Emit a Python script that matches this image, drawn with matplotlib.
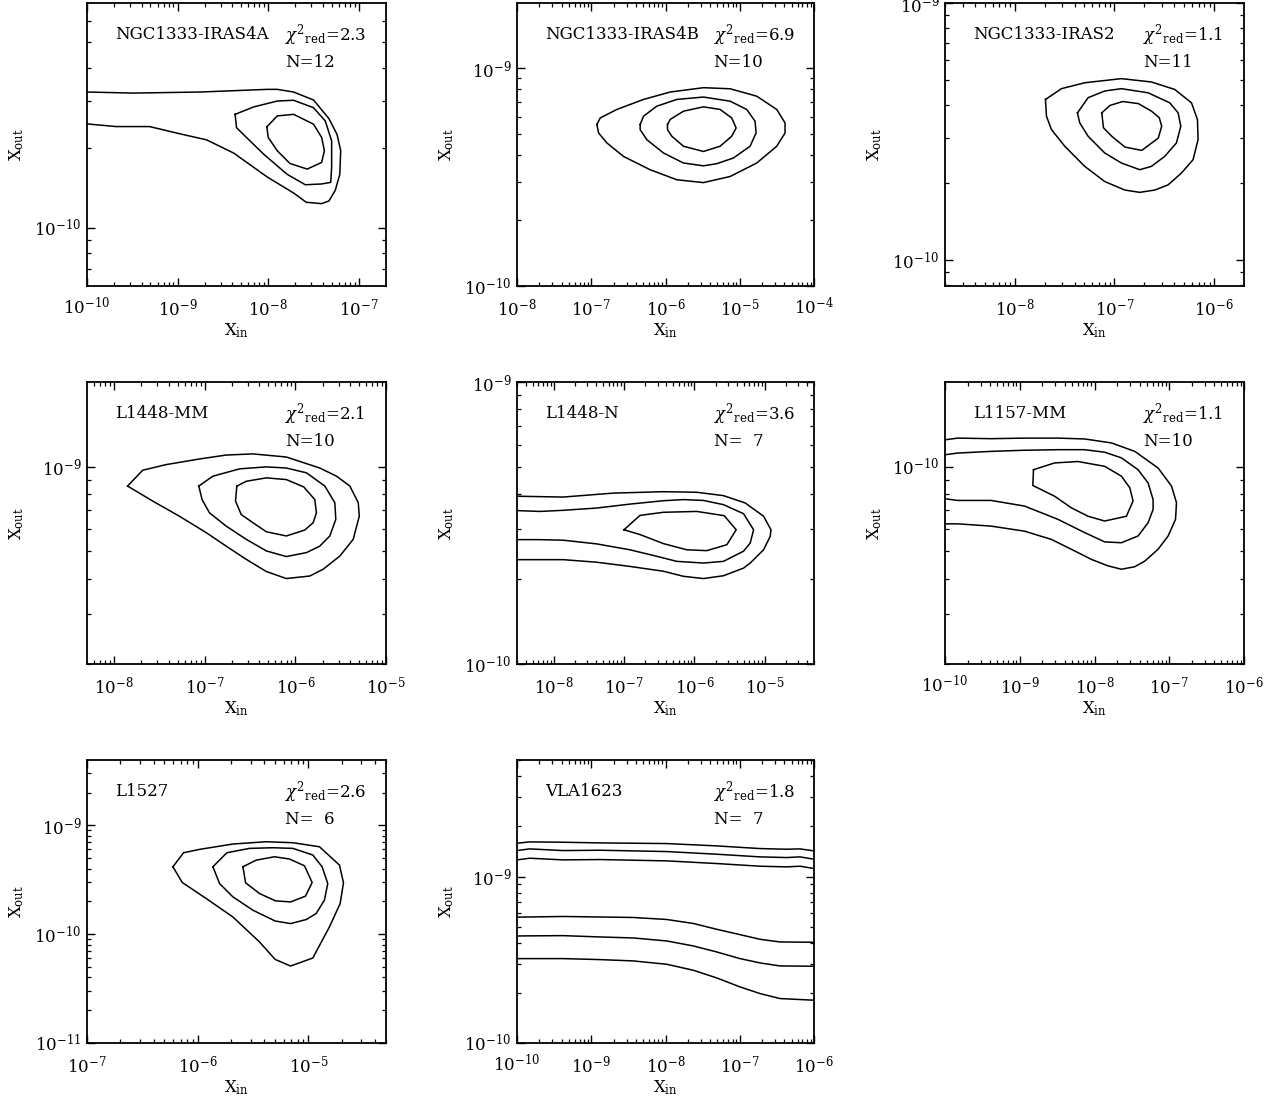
import numpy as np
import matplotlib
matplotlib.use("Agg")
import matplotlib.pyplot as plt
from matplotlib.ticker import LogLocator, NullFormatter, LogFormatterSciNotation

plt.rcParams['font.family'] = ['DejaVu Serif']
plt.rcParams['mathtext.fontset'] = 'dejavuserif'

# source names, fit quality and number of lines
names = ["NGC1333-IRAS4A", "NGC1333-IRAS4B", "NGC1333-IRAS2",
         "L1448-MM", "L1448-N", "L1157-MM", "L1527", "VLA1623"]
chi2_red = ["2.3", "6.9", "1.1", "2.1", "3.6", "1.1", "2.6", "1.8"]
n_lines = ["12", "10", "11", "10", " 7", "10", " 6", " 7"]

# axis ranges (log10 of abundance)
xin_range = [(-10, -6.7), (-8, -4), (-8.7, -5.7), (-8.3, -5), (-8.523, -4.3),
             (-10, -6), (-7, -4.3), (-10, -6)]
xout_range = [(-10.22, -9.155), (-10, -8.7), (-10.1, -9), (-9.7, -8.7), (-10, -9),
              (-10.7, -9.7), (-11, -8.4), (-10, -8.3)]

# chi2 contours, log10(X_in), log10(X_out)
iras4a = [
    ([-10, -9.49, -8.75, -8.01, -7.90, -7.72, -7.50, -7.33, -7.24, -7.20, -7.21, -7.26,
      -7.33, -7.41, -7.58, -7.72, -8.01, -8.38, -8.68, -8.94, -9.31, -9.68, -10],
     [-9.49, -9.494, -9.49, -9.48, -9.48, -9.49, -9.52, -9.59, -9.65, -9.71, -9.80, -9.86,
      -9.90, -9.91, -9.905, -9.87, -9.81, -9.72, -9.67, -9.65, -9.62, -9.62, -9.61]),
    ([-8.365, -8.16, -7.90, -7.72, -7.50, -7.37, -7.30, -7.30, -7.31, -7.41, -7.59, -7.79,
      -8.05, -8.24, -8.35, -8.365],
     [-9.574, -9.546, -9.524, -9.521, -9.549, -9.599, -9.674, -9.774, -9.83, -9.836, -9.839,
      -9.80, -9.724, -9.661, -9.624, -9.574]),
    ([-8.015, -7.90, -7.72, -7.50, -7.41, -7.38, -7.41, -7.57, -7.76, -7.90, -8.0, -8.015],
     [-9.621, -9.58, -9.574, -9.611, -9.661, -9.711, -9.755, -9.78, -9.759, -9.711, -9.661, -9.621]),
]

iras4b = [
    ([-6.924, -6.879, -6.655, -6.296, -5.937, -5.489, -5.13, -4.771, -4.502, -4.39, -4.39,
      -4.502, -4.771, -5.13, -5.489, -5.848, -6.206, -6.565, -6.789, -6.901, -6.924],
     [-9.258, -9.228, -9.189, -9.143, -9.109, -9.089, -9.094, -9.128, -9.189, -9.251, -9.297,
      -9.358, -9.435, -9.497, -9.525, -9.512, -9.466, -9.405, -9.343, -9.297, -9.258]),
    ([-6.341, -6.296, -6.117, -5.848, -5.489, -5.13, -4.906, -4.794, -4.78, -4.861, -5.085,
      -5.309, -5.489, -5.758, -6.027, -6.251, -6.341, -6.341],
     [-9.258, -9.22, -9.174, -9.143, -9.132, -9.151, -9.189, -9.243, -9.297, -9.358, -9.412,
      -9.438, -9.448, -9.435, -9.389, -9.328, -9.282, -9.258]),
    ([-5.973, -5.937, -5.758, -5.489, -5.265, -5.108, -5.049, -5.108, -5.265, -5.489, -5.758,
      -5.915, -5.973, -5.973],
     [-9.258, -9.235, -9.197, -9.177, -9.189, -9.228, -9.274, -9.312, -9.358, -9.382, -9.358,
      -9.312, -9.282, -9.258]),
]

iras2 = [
    ([-7.692, -7.532, -7.298, -6.930, -6.629, -6.395, -6.227, -6.167, -6.161, -6.211, -6.328,
      -6.462, -6.595, -6.746, -6.896, -7.097, -7.298, -7.498, -7.632, -7.682, -7.692],
     [-9.375, -9.333, -9.31, -9.294, -9.307, -9.336, -9.388, -9.453, -9.531, -9.609, -9.661,
      -9.707, -9.727, -9.736, -9.727, -9.694, -9.635, -9.557, -9.492, -9.44, -9.375]),
    ([-7.371, -7.264, -7.097, -6.930, -6.662, -6.445, -6.361, -6.334, -6.378, -6.495, -6.629,
      -6.746, -6.930, -7.097, -7.264, -7.348, -7.371],
     [-9.427, -9.368, -9.342, -9.333, -9.349, -9.388, -9.427, -9.479, -9.544, -9.596, -9.635,
      -9.648, -9.622, -9.583, -9.518, -9.466, -9.427]),
    ([-7.127, -7.044, -6.917, -6.760, -6.626, -6.550, -6.526, -6.560, -6.726, -6.894, -7.027,
      -7.110, -7.127],
     [-9.427, -9.398, -9.383, -9.391, -9.421, -9.446, -9.479, -9.525, -9.573, -9.560, -9.518,
      -9.485, -9.427]),
]

l1448mm = [
    ([-7.852, -7.686, -7.428, -7.059, -6.764, -6.469, -6.100, -5.731, -5.546, -5.399, -5.306,
      -5.295, -5.362, -5.509, -5.694, -5.841, -6.100, -6.321, -6.542, -6.764, -6.985, -7.280,
      -7.576, -7.852],
     [-9.069, -9.013, -8.993, -8.973, -8.959, -8.955, -8.966, -9.005, -9.034, -9.069, -9.128,
      -9.176, -9.258, -9.317, -9.364, -9.388, -9.397, -9.372, -9.329, -9.282, -9.234, -9.176,
      -9.122, -9.069]),
    ([-7.066, -6.911, -6.616, -6.321, -6.100, -5.878, -5.675, -5.565, -5.554, -5.620, -5.731,
      -5.878, -6.100, -6.321, -6.542, -6.764, -6.948, -7.030, -7.066],
     [-9.069, -9.034, -9.008, -9.001, -9.005, -9.022, -9.069, -9.128, -9.187, -9.246, -9.282,
      -9.305, -9.319, -9.299, -9.258, -9.211, -9.164, -9.117, -9.069]),
    ([-6.646, -6.542, -6.321, -6.100, -5.908, -5.786, -5.768, -5.804, -5.897, -6.100, -6.321,
      -6.469, -6.598, -6.661, -6.646],
     [-9.069, -9.052, -9.040, -9.046, -9.072, -9.117, -9.164, -9.199, -9.225, -9.246, -9.231,
      -9.199, -9.170, -9.122, -9.069]),
]

l1448n = [
    ([-8.523, -7.867, -7.154, -6.442, -5.967, -5.587, -5.278, -5.017, -4.912, -4.922, -5.017,
      -5.207, -5.302, -5.587, -5.872, -6.157, -6.442, -6.917, -7.392, -7.867, -8.523],
     [-9.405, -9.408, -9.394, -9.389, -9.391, -9.403, -9.429, -9.476, -9.524, -9.547, -9.595,
      -9.642, -9.660, -9.687, -9.697, -9.689, -9.671, -9.654, -9.639, -9.630, -9.630]),
    ([-8.523, -8.200, -7.867, -7.392, -6.917, -6.442, -6.157, -5.872, -5.587, -5.302, -5.159,
      -5.207, -5.302, -5.587, -5.872, -6.252, -6.537, -6.917, -7.392, -7.867, -8.200, -8.523],
     [-9.456, -9.459, -9.455, -9.447, -9.433, -9.421, -9.417, -9.420, -9.435, -9.467, -9.524,
      -9.571, -9.600, -9.636, -9.642, -9.636, -9.618, -9.595, -9.574, -9.561, -9.559, -9.559]),
    ([-7.002, -6.774, -6.442, -5.967, -5.577, -5.406, -5.539, -5.824, -6.109, -6.442, -6.774, -7.002],
     [-9.524, -9.473, -9.462, -9.459, -9.474, -9.524, -9.577, -9.598, -9.595, -9.573, -9.541, -9.524]),
]

l1157mm = [
    ([-10, -9.830, -9.383, -8.936, -8.489, -8.132, -7.774, -7.461, -7.149, -6.970, -6.903,
      -6.916, -7.015, -7.149, -7.327, -7.461, -7.640, -7.819, -8.042, -8.311, -8.579, -8.936,
      -9.383, -9.830, -10],
     [-9.905, -9.899, -9.901, -9.899, -9.899, -9.902, -9.916, -9.946, -10.005, -10.069, -10.128,
      -10.187, -10.246, -10.293, -10.335, -10.355, -10.364, -10.352, -10.329, -10.293, -10.258,
      -10.229, -10.211, -10.203, -10.203]),
    ([-10, -9.830, -9.383, -8.936, -8.489, -8.132, -7.864, -7.640, -7.417, -7.283, -7.216,
      -7.216, -7.283, -7.417, -7.640, -7.864, -8.132, -8.489, -8.936, -9.383, -9.830, -10],
     [-9.958, -9.952, -9.946, -9.942, -9.940, -9.940, -9.949, -9.969, -10.011, -10.058, -10.117,
      -10.152, -10.199, -10.246, -10.270, -10.267, -10.234, -10.187, -10.140, -10.120, -10.120,
      -10.114]),
    ([-8.816, -8.534, -8.221, -7.864, -7.640, -7.528, -7.484, -7.573, -7.864, -8.087, -8.311,
      -8.534, -8.825, -8.816],
     [-10.011, -9.987, -9.982, -9.999, -10.034, -10.075, -10.122, -10.176, -10.193, -10.176,
      -10.146, -10.105, -10.067, -10.011]),
]

l1527 = [
    ([-6.224, -6.128, -5.983, -5.683, -5.382, -5.141, -4.901, -4.720, -4.684, -4.714, -4.811,
      -4.961, -5.162, -5.301, -5.442, -5.683, -5.923, -6.140, -6.224],
     [-9.381, -9.252, -9.221, -9.172, -9.151, -9.160, -9.197, -9.366, -9.528, -9.719, -9.934,
      -10.219, -10.293, -10.232, -10.072, -9.842, -9.673, -9.525, -9.381]),
    ([-5.863, -5.737, -5.532, -5.322, -5.141, -4.961, -4.877, -4.826, -4.856, -4.931, -5.021,
      -5.162, -5.301, -5.502, -5.683, -5.803, -5.863],
     [-9.381, -9.252, -9.212, -9.206, -9.212, -9.273, -9.381, -9.535, -9.688, -9.811, -9.866,
      -9.903, -9.879, -9.780, -9.657, -9.535, -9.381]),
    ([-5.592, -5.472, -5.307, -5.171, -5.036, -4.967, -5.027, -5.162, -5.298, -5.442, -5.568, -5.592],
     [-9.381, -9.320, -9.289, -9.310, -9.372, -9.525, -9.651, -9.704, -9.694, -9.627, -9.528, -9.381]),
]

vla_x_top = [-10, -9.829, -9.380, -8.882, -7.984, -7.310, -6.727, -6.368, -6.189, -6.0]
vla_x_bot = [-10, -9.380, -8.882, -8.433, -7.984, -7.625, -7.310, -6.997, -6.727, -6.458, -6.0]
vla1623 = [
    (vla_x_top, [-8.800, -8.792, -8.794, -8.798, -8.802, -8.816, -8.832, -8.836, -8.834, -8.846]),
    (vla_x_top, [-8.844, -8.834, -8.844, -8.842, -8.850, -8.866, -8.882, -8.886, -8.882, -8.896]),
    (vla_x_top, [-8.900, -8.890, -8.900, -8.898, -8.906, -8.922, -8.938, -8.942, -8.938, -8.952]),
    (vla_x_bot, [-9.244, -9.240, -9.243, -9.246, -9.258, -9.282, -9.317, -9.349, -9.377, -9.393, -9.395]),
    (vla_x_bot, [-9.357, -9.355, -9.363, -9.369, -9.387, -9.417, -9.453, -9.493, -9.519, -9.537, -9.539]),
    (vla_x_bot, [-9.493, -9.493, -9.499, -9.507, -9.527, -9.563, -9.609, -9.663, -9.703, -9.733, -9.743]),
]

contours = [iras4a, iras4b, iras2, l1448mm, l1448n, l1157mm, l1527, vla1623]

W, H = 1288, 1097
fig = plt.figure(figsize=(W / 100, H / 100), dpi=100)

cols_px = [(87, 386), (517, 814), (945, 1244)]
rows_px = [(3, 286), (382, 664), (760, 1043)]
fs = 12

for i in range(len(names)):
    r, c = divmod(i, 3)
    x0, x1 = cols_px[c]
    y0, y1 = rows_px[r]
    ax = fig.add_axes([x0 / W, 1 - y1 / H, (x1 - x0) / W, (y1 - y0) / H])
    for lx, ly in contours[i]:
        ax.plot(10 ** np.array(lx), 10 ** np.array(ly), color='black', lw=1.1)
    ax.set_xscale('log')
    ax.set_yscale('log')
    ax.set_xlim(10 ** xin_range[i][0], 10 ** xin_range[i][1])
    ax.set_ylim(10 ** xout_range[i][0], 10 ** xout_range[i][1])
    for axis in (ax.xaxis, ax.yaxis):
        axis.set_major_locator(LogLocator(base=10, numticks=20))
        axis.set_minor_locator(LogLocator(base=10, subs=np.arange(2, 10), numticks=20))
        axis.set_major_formatter(LogFormatterSciNotation())
        axis.set_minor_formatter(NullFormatter())
    ax.tick_params(which='both', direction='in', top=True, right=True, labelsize=fs)
    ax.tick_params(which='major', length=6, width=1.0)
    ax.tick_params(which='minor', length=3, width=0.9)
    ax.tick_params(axis='x', which='major', pad=8)
    ax.tick_params(axis='y', which='major', pad=4)
    for s in ax.spines.values():
        s.set_linewidth(1.3)
    ax.set_xlabel(r'X$_{\rm in}$', fontsize=fs)
    ax.set_ylabel(r'X$_{\rm out}$', fontsize=fs)
    ax.xaxis.set_label_coords(0.5, -0.125)
    ax.yaxis.set_label_coords(-0.205, 0.5)
    ax.text(0.094, 0.887, names[i], transform=ax.transAxes, fontsize=fs, va='center', ha='left')
    ax.text(0.662, 0.887, r'$\chi^{2}{}_{\rm red}$=' + chi2_red[i], transform=ax.transAxes,
            fontsize=fs, va='center', ha='left')
    ax.text(0.662, 0.79, 'N=' + n_lines[i].replace(' ', '  '), transform=ax.transAxes,
            fontsize=fs, va='center', ha='left')

fig.savefig('out.png', dpi=100)
